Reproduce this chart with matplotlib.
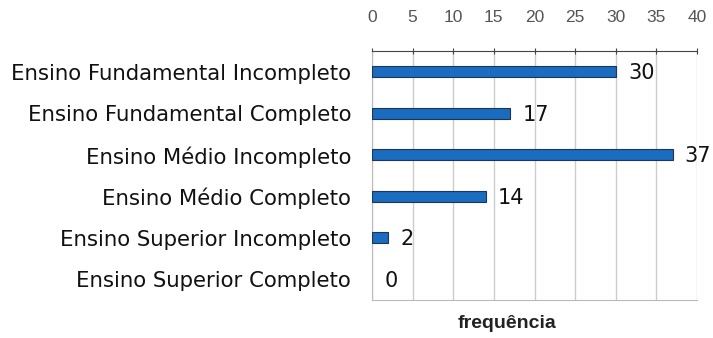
import matplotlib
matplotlib.use("Agg")
import matplotlib.pyplot as plt

# escolaridade dos respondentes
categorias = [
    "Ensino Fundamental Incompleto",
    "Ensino Fundamental Completo",
    "Ensino Médio Incompleto",
    "Ensino Médio Completo",
    "Ensino Superior Incompleto",
    "Ensino Superior Completo",
]
frequencias = [30, 17, 37, 14, 2, 0]
ticks_x = [0, 5, 10, 15, 20, 25, 30, 35, 40]

plt.rcParams["font.family"] = ["Liberation Sans", "DejaVu Sans"]
fonte_rotulos = ["DejaVu Sans"]

fig = plt.figure(figsize=(7.13, 3.38), dpi=100)
ax = fig.add_axes([0.5217, 0.1124, 0.4559, 0.7366])

pos = list(range(len(categorias)))
# barra com valor zero fica sem contorno
larguras_borda = [0.8 if v > 0 else 0 for v in frequencias]
ax.barh(pos, frequencias, height=0.27, color="#1a6cc0",
        edgecolor="#1f3550", linewidth=larguras_borda, zorder=3)

for p, v in zip(pos, frequencias):
    ax.text(v + 1.5, p + 0.03, str(v), va="center", ha="left",
            fontsize=15, color="#111111", family=fonte_rotulos)

ax.set_xlim(0, 40)
ax.set_ylim(len(categorias) - 0.5, -0.5)
ax.set_yticks(pos)
ax.set_yticklabels(categorias, fontsize=15.3, color="#111111",
                   family=fonte_rotulos)
ax.tick_params(axis="y", length=0, pad=15)

ax.xaxis.tick_top()
ax.set_xticks(ticks_x)
ax.set_xticklabels([str(t) for t in ticks_x], fontsize=12.5, color="#555555")
ax.tick_params(axis="x", length=5, direction="inout", color="#444444", pad=16)
ax.grid(axis="x", color="#cccccc", linewidth=1, zorder=0)

ax.spines["top"].set_color("#444444")
ax.spines["left"].set_color("#bbbbbb")
ax.spines["bottom"].set_color("#bbbbbb")
ax.spines["right"].set_visible(False)

fig.text(0.711, 0.03, "frequência", ha="center", fontsize=14,
         fontweight="bold", color="#222222")

fig.savefig("out.png", dpi=100, facecolor="white")
